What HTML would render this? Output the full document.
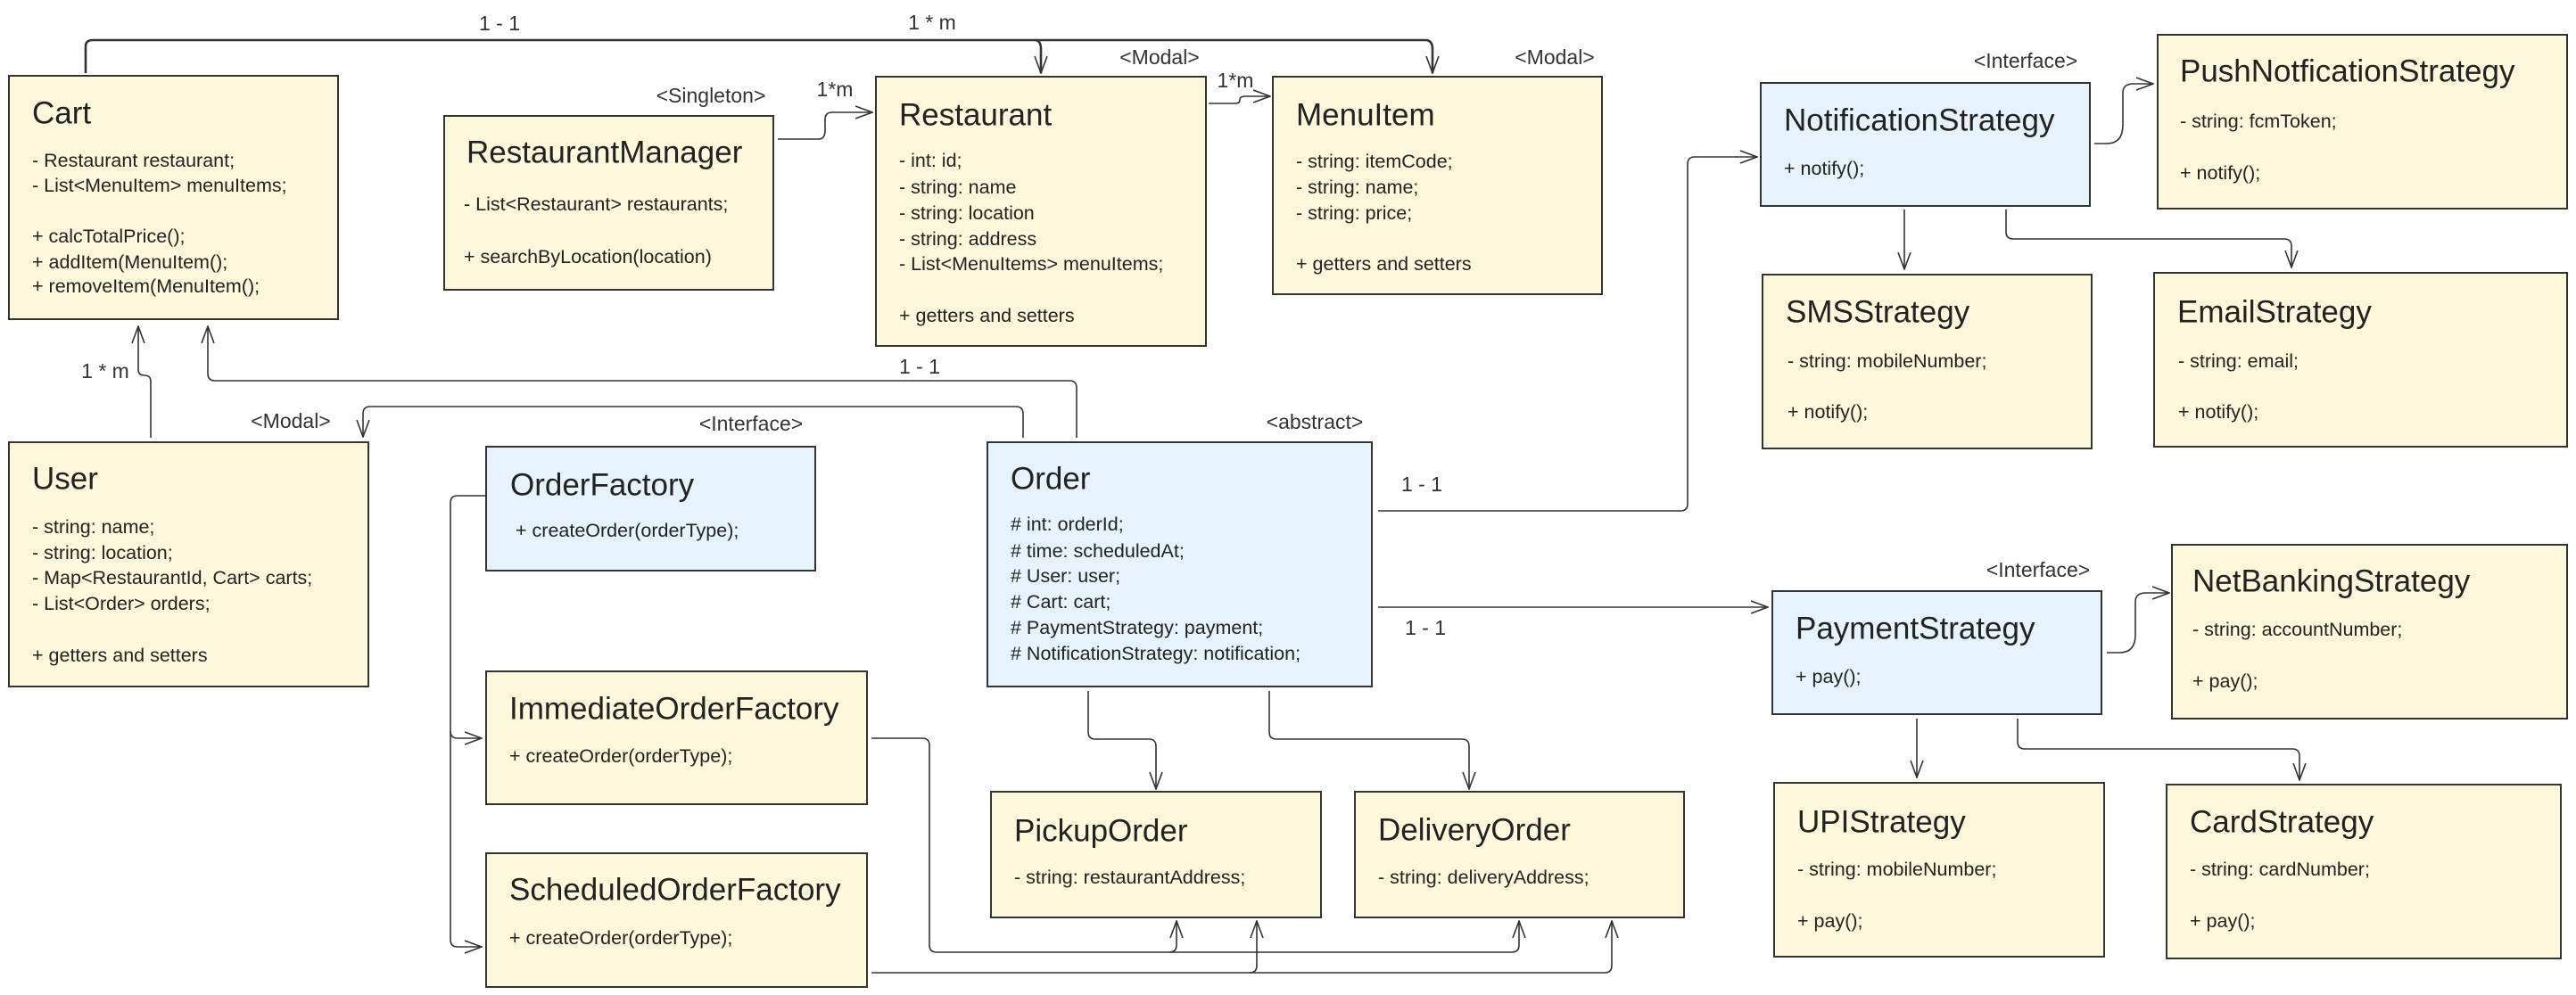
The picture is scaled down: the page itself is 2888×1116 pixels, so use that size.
<!DOCTYPE html>
<html><head><meta charset="utf-8"><style>
html,body{margin:0;padding:0;background:#fff;}
svg{display:block;}
text{font-family:"Liberation Sans",sans-serif;fill:#222;dominant-baseline:central;}
.t{font-size:35px;}
.b{font-size:21.5px;}
.s{font-size:23px;fill:#333;}
.y{fill:#fdf7dc;stroke:#333;stroke-width:2;}
.u{fill:#e6f3fc;stroke:#333;stroke-width:2;}
.l{fill:none;stroke:#333;stroke-width:1.6;stroke-linejoin:round;}
.lt{fill:none;stroke:#333;stroke-width:2.6;stroke-linejoin:round;}
</style></head><body>
<svg width="2888" height="1116" viewBox="0 0 2888 1116" xmlns="http://www.w3.org/2000/svg">
<defs>
<marker id="a" viewBox="0 0 20 20" refX="19" refY="10" markerWidth="20" markerHeight="20" markerUnits="userSpaceOnUse" orient="auto">
<polyline points="0,3 19,10 0,17" fill="none" stroke="#333" stroke-width="1.6"/>
</marker>
</defs>

<path class="lt" d="M96,82 V52 Q96,45 104,45 H1160 Q1167,45 1167,55 V82" marker-end="url(#a)"/>
<path class="lt" d="M1160,45 H1598 Q1606,45 1606,55 V82" marker-end="url(#a)"/>
<path class="l" d="M872,156 H918 Q925,156 925,146 V134 Q925,126 933,126 H978" marker-end="url(#a)"/>
<path class="l" d="M1355,116 H1385 Q1390,116 1390,112 Q1390,108 1396,108 H1424" marker-end="url(#a)"/>
<path class="l" d="M169,491 V428 Q169,421 162,421 Q155,421 155,414 V366" marker-end="url(#a)"/>
<path class="l" d="M1207,491 V435 Q1207,427 1199,427 H241 Q233,427 233,419 V366" marker-end="url(#a)"/>
<path class="l" d="M1147,491 V464 Q1147,456 1139,456 H415 Q407,456 407,464 V490" marker-end="url(#a)"/>
<path class="l" d="M545,556 H513 Q505,556 505,564 V820 Q505,828 513,828 H540" marker-end="url(#a)"/>
<path class="l" d="M505,820 V1054 Q505,1062 513,1062 H540" marker-end="url(#a)"/>
<path class="l" d="M1220,775 V821 Q1220,829 1228,829 H1288 Q1296,829 1296,837 V885" marker-end="url(#a)"/>
<path class="l" d="M1423,775 V821 Q1423,829 1431,829 H1639 Q1647,829 1647,837 V885" marker-end="url(#a)"/>
<path class="l" d="M977,828 H1034 Q1042,828 1042,836 V1060 Q1042,1068 1050,1068 H1311 Q1319,1068 1319,1060 V1033" marker-end="url(#a)"/>
<path class="l" d="M1311,1068 H1695 Q1703,1068 1703,1060 V1033" marker-end="url(#a)"/>
<path class="l" d="M977,1091 H1401 Q1409,1091 1409,1083 V1033" marker-end="url(#a)"/>
<path class="l" d="M1401,1091 H1799 Q1807,1091 1807,1083 V1033" marker-end="url(#a)"/>
<path class="l" d="M1545,573 H1884 Q1892,573 1892,565 V184 Q1892,176 1900,176 H1970" marker-end="url(#a)"/>
<path class="l" d="M1545,681 H1982" marker-end="url(#a)"/>
<path class="l" d="M2348,161 H2362 Q2380,161 2380,140 V104 Q2380,94 2392,94 H2414" marker-end="url(#a)"/>
<path class="l" d="M2135,235 V302" marker-end="url(#a)"/>
<path class="l" d="M2249,235 V260 Q2249,268 2257,268 H2561 Q2569,268 2569,276 V300" marker-end="url(#a)"/>
<path class="l" d="M2362,732 H2376 Q2394,732 2394,712 V675 Q2394,665 2406,665 H2432" marker-end="url(#a)"/>
<path class="l" d="M2149,806 V872" marker-end="url(#a)"/>
<path class="l" d="M2262,806 V832 Q2262,840 2270,840 H2570 Q2578,840 2578,848 V875" marker-end="url(#a)"/>

<text class="s" x="560" y="26" text-anchor="middle">1 - 1</text>
<text class="s" x="1045" y="25" text-anchor="middle">1 * m</text>
<text class="s" x="936" y="100" text-anchor="middle">1*m</text>
<text class="s" x="1385" y="90" text-anchor="middle">1*m</text>
<text class="s" x="118" y="416" text-anchor="middle">1 * m</text>
<text class="s" x="1031" y="411" text-anchor="middle">1 - 1</text>
<text class="s" x="1594" y="543" text-anchor="middle">1 - 1</text>
<text class="s" x="1598" y="704" text-anchor="middle">1 - 1</text>

<text class="s" x="1300" y="64" text-anchor="middle">&lt;Modal&gt;</text>
<text class="s" x="1743" y="64" text-anchor="middle">&lt;Modal&gt;</text>
<text class="s" x="797" y="107" text-anchor="middle">&lt;Singleton&gt;</text>
<text class="s" x="326" y="472" text-anchor="middle">&lt;Modal&gt;</text>
<text class="s" x="842" y="475" text-anchor="middle">&lt;Interface&gt;</text>
<text class="s" x="1474" y="473" text-anchor="middle">&lt;abstract&gt;</text>
<text class="s" x="2271" y="68" text-anchor="middle">&lt;Interface&gt;</text>
<text class="s" x="2285" y="639" text-anchor="middle">&lt;Interface&gt;</text>

<rect class="y" x="10" y="85" width="369" height="273"/>
<text class="t" x="36" y="127">Cart</text>
<text class="b" x="36" y="180">- Restaurant restaurant;</text>
<text class="b" x="36" y="208">- List&lt;MenuItem&gt; menuItems;</text>
<text class="b" x="36" y="265">+ calcTotalPrice();</text>
<text class="b" x="36" y="294">+ addItem(MenuItem();</text>
<text class="b" x="36" y="321">+ removeItem(MenuItem();</text>

<rect class="y" x="498" y="130" width="369" height="195"/>
<text class="t" x="523" y="171">RestaurantManager</text>
<text class="b" x="520" y="229">- List&lt;Restaurant&gt; restaurants;</text>
<text class="b" x="520" y="288">+ searchByLocation(location)</text>

<rect class="y" x="982" y="86" width="370" height="302"/>
<text class="t" x="1008" y="129">Restaurant</text>
<text class="b" x="1008" y="180">- int: id;</text>
<text class="b" x="1008" y="210">- string: name</text>
<text class="b" x="1008" y="239">- string: location</text>
<text class="b" x="1008" y="268">- string: address</text>
<text class="b" x="1008" y="296">- List&lt;MenuItems&gt; menuItems;</text>
<text class="b" x="1008" y="354">+ getters and setters</text>

<rect class="y" x="1427" y="86" width="369" height="244"/>
<text class="t" x="1453" y="129">MenuItem</text>
<text class="b" x="1453" y="181">- string: itemCode;</text>
<text class="b" x="1453" y="210">- string: name;</text>
<text class="b" x="1453" y="239">- string: price;</text>
<text class="b" x="1453" y="296">+ getters and setters</text>

<rect class="u" x="1974" y="93" width="369" height="138"/>
<text class="t" x="2000" y="135">NotificationStrategy</text>
<text class="b" x="2000" y="189">+ notify();</text>

<rect class="y" x="2419" y="39" width="459" height="195"/>
<text class="t" x="2444" y="80">PushNotficationStrategy</text>
<text class="b" x="2444" y="136">- string: fcmToken;</text>
<text class="b" x="2444" y="194">+ notify();</text>

<rect class="y" x="1976" y="308" width="369" height="195"/>
<text class="t" x="2002" y="350">SMSStrategy</text>
<text class="b" x="2004" y="405">- string: mobileNumber;</text>
<text class="b" x="2004" y="462">+ notify();</text>

<rect class="y" x="2415" y="306" width="463" height="195"/>
<text class="t" x="2441" y="350">EmailStrategy</text>
<text class="b" x="2442" y="405">- string: email;</text>
<text class="b" x="2442" y="462">+ notify();</text>

<rect class="y" x="10" y="496" width="403" height="274"/>
<text class="t" x="36" y="537">User</text>
<text class="b" x="36" y="591">- string: name;</text>
<text class="b" x="36" y="620">- string: location;</text>
<text class="b" x="36" y="648">- Map&lt;RestaurantId, Cart&gt; carts;</text>
<text class="b" x="36" y="677">- List&lt;Order&gt; orders;</text>
<text class="b" x="36" y="735">+ getters and setters</text>

<rect class="u" x="545" y="501" width="369" height="139"/>
<text class="t" x="572" y="544">OrderFactory</text>
<text class="b" x="578" y="595">+ createOrder(orderType);</text>

<rect class="y" x="545" y="753" width="427" height="149"/>
<text class="t" x="571" y="795">ImmediateOrderFactory</text>
<text class="b" x="571" y="848">+ createOrder(orderType);</text>

<rect class="y" x="545" y="957" width="427" height="150"/>
<text class="t" x="571" y="998">ScheduledOrderFactory</text>
<text class="b" x="571" y="1052">+ createOrder(orderType);</text>

<rect class="u" x="1107" y="496" width="431" height="274"/>
<text class="t" x="1133" y="537">Order</text>
<text class="b" x="1133" y="588"># int: orderId;</text>
<text class="b" x="1133" y="618"># time: scheduledAt;</text>
<text class="b" x="1133" y="646"># User: user;</text>
<text class="b" x="1133" y="675"># Cart: cart;</text>
<text class="b" x="1133" y="704"># PaymentStrategy: payment;</text>
<text class="b" x="1133" y="733"># NotificationStrategy: notification;</text>

<rect class="y" x="1111" y="888" width="370" height="141"/>
<text class="t" x="1137" y="932">PickupOrder</text>
<text class="b" x="1137" y="984">- string: restaurantAddress;</text>

<rect class="y" x="1519" y="888" width="369" height="141"/>
<text class="t" x="1545" y="931">DeliveryOrder</text>
<text class="b" x="1545" y="984">- string: deliveryAddress;</text>

<rect class="u" x="1987" y="663" width="369" height="138"/>
<text class="t" x="2013" y="705">PaymentStrategy</text>
<text class="b" x="2013" y="759">+ pay();</text>

<rect class="y" x="2435" y="611" width="443" height="195"/>
<text class="t" x="2458" y="652">NetBankingStrategy</text>
<text class="b" x="2458" y="706">- string: accountNumber;</text>
<text class="b" x="2458" y="764">+ pay();</text>

<rect class="y" x="1989" y="878" width="370" height="195"/>
<text class="t" x="2015" y="922">UPIStrategy</text>
<text class="b" x="2015" y="975">- string: mobileNumber;</text>
<text class="b" x="2015" y="1033">+ pay();</text>

<rect class="y" x="2429" y="880" width="442" height="195"/>
<text class="t" x="2455" y="922">CardStrategy</text>
<text class="b" x="2455" y="975">- string: cardNumber;</text>
<text class="b" x="2455" y="1033">+ pay();</text>
</svg>
</body></html>
